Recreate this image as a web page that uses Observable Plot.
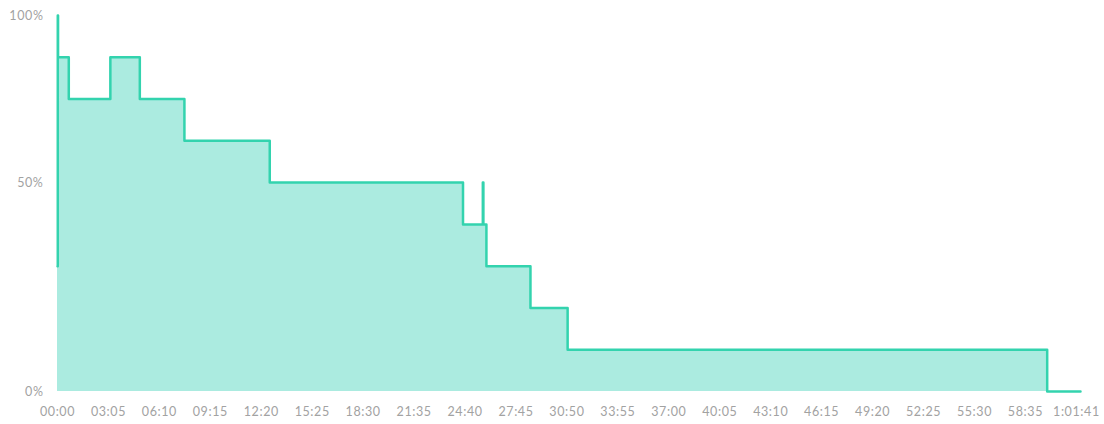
<!DOCTYPE html>
<html>
<head>
<meta charset="utf-8">
<script src="https://cdn.jsdelivr.net/npm/d3@7"></script>
<script src="https://cdn.jsdelivr.net/npm/@observablehq/plot@0.6"></script>
<style>
  html, body { margin: 0; padding: 0; background: #fff; }
  #chart svg { display: block; }
</style>
</head>
<body>
<div id="chart"></div>
<script>
// Elapsed time (seconds) at each change, and the level (out of 9) from that time on
const times  = [0, 1, 2, 41, 192, 299, 461, 771, 1473, 1545, 1547, 1558, 1718, 1853, 3595, 3716];
const levels = [3, 9, 8, 7,  8,   7,   6,   5,   4,    5,    4,    3,    2,    1,    0,    0];
const levelMax = 9;
const totalSeconds = 3701;
const xTickCount = 20;
const yTickLevels = [0, 5, 9];
const yTickLabels = ["0%", "50%", "100%"];

const data = times.map((t, i) => ({t, v: levels[i]}));
const xTicks = d3.range(xTickCount + 1).map(i => i * totalSeconds / xTickCount);

function fmtTime(s) {
  s = Math.floor(s);
  const h = Math.floor(s / 3600), m = Math.floor((s % 3600) / 60), sec = s % 60;
  const p = n => String(n).padStart(2, "0");
  return h > 0 ? `${h}:${p(m)}:${p(sec)}` : `${p(m)}:${p(sec)}`;
}

const chart = Plot.plot({
  width: 1104,
  height: 424,
  marginLeft: 57,
  marginRight: 24,
  marginTop: 15,
  marginBottom: 33,
  style: {fontFamily: "Lato, sans-serif", fontSize: "12.5px", color: "#a2a2a2", background: "#fff", letterSpacing: "0.6px"},
  x: {domain: [0, times[times.length - 1]], label: null},
  y: {domain: [0, levelMax], label: null},
  marks: [
    Plot.areaY(data, {x: "t", y: "v", curve: "step-after", fill: "#abebe0"}),
    Plot.lineY(data, {x: "t", y: "v", curve: "step-after", stroke: "#33d3ae", strokeWidth: 2.5, strokeLinejoin: "round"}),
    Plot.axisX({ticks: xTicks, tickFormat: fmtTime, tickSize: 0, tickPadding: 16, label: null}),
    Plot.axisY({ticks: yTickLevels, tickFormat: (d) => yTickLabels[yTickLevels.indexOf(d)], tickSize: 0, tickPadding: 14, label: null})
  ]
});
document.getElementById("chart").appendChild(chart);
</script>
</body>
</html>
